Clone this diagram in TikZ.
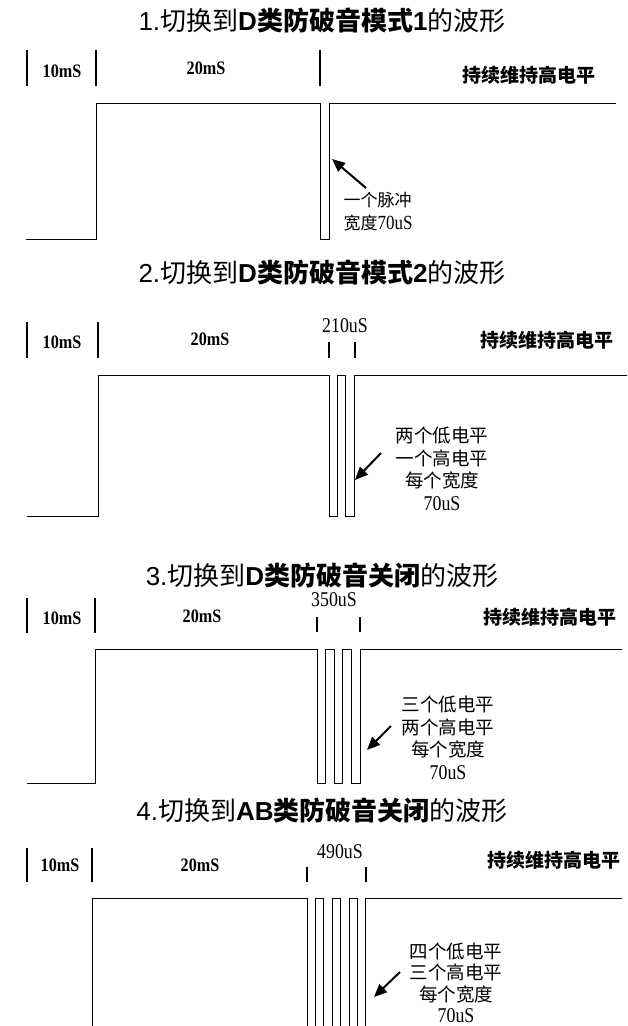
\documentclass[tikz,border=0pt]{standalone}
\usepackage{fontspec}
\setmainfont{Liberation Serif}
\newfontfamily\cjk{Noto Sans CJK SC}
\newfontfamily\arial{Liberation Sans}
\newfontfamily\narrow[FakeStretch=0.85]{Liberation Serif}
\usetikzlibrary{arrows.meta}

\tikzset{
  wave/.style={line width=0.9pt, line join=miter},
  bigtick/.style={line width=1.6pt},
  smalltick/.style={line width=1.3pt},
  pointer/.style={line width=2pt, -{Triangle[length=13pt,width=11pt]}},
  heading/.style={font=\cjk\fontsize{26}{30}\selectfont},
  span/.style={font=\narrow\bfseries\fontsize{19}{22}\selectfont},
  keep/.style={font=\cjk\bfseries\fontsize{19}{22}\selectfont},
  usdim/.style={font=\narrow\fontsize{21}{24}\selectfont},
  note/.style={font=\cjk\fontsize{18.5}{22.5}\selectfont, align=center},
}

\begin{document}
\begin{tikzpicture}[x=1pt, y=-1pt]
    \useasboundingbox (0,0) rectangle (627,1026);

    % 1: one pulse
    \node[heading] (t1) at (322,20) {{\arial 1.}切换到{\arial\bfseries D}{\bfseries 类防破音模式}{\arial\bfseries 1}的波形};
    \foreach \x in {27,96,320} \draw[bigtick] (\x,50) -- (\x,86);
    \node[span] (a1) at (62,71) {10mS};
    \node[span] (b1) at (206,68) {20mS};
    \node[keep] (k1) at (529,75) {持续维持高电平};
    \draw[wave] (26,239) -- (96,239) -- (96,103) -- (320,103) -- (320,239) -- (329,239) -- (329,103) -- (616,103);
    \coordinate (s1) at (366,188);
    \coordinate (e1) at (332,159);
    \draw[pointer] (s1) -- (e1);
    \node[note, font=\cjk\fontsize{17}{23}\selectfont, align=left, anchor=west] (n1) at (340,212) {一个脉冲\\宽度{\narrow\fontsize{20}{23}\selectfont 70uS}};

    % 2: two pulses
    \node[heading] (t2) at (322,272) {{\arial 2.}切换到{\arial\bfseries D}{\bfseries 类防破音模式}{\arial\bfseries 2}的波形};
    \foreach \x in {27,98} \draw[bigtick] (\x,322) -- (\x,358);
    \foreach \x in {329,355} \draw[smalltick] (\x,342) -- (\x,358);
    \node[span] (a2) at (62,342) {10mS};
    \node[span] (b2) at (210,339) {20mS};
    \node[usdim] (d2) at (345,326) {210uS};
    \node[keep] (k2) at (547,340) {持续维持高电平};
    \draw[wave] (27,516) -- (98,516) -- (98,375) -- (329,375);
    \foreach \i in {0,1} \draw[wave] ({329+2*\i*8.4},375) -- ++(0,141) -- ++(8.4,0) -- ++(0,-141) -- ++(8.4,0);
    \draw[wave] (354,375) -- (627,375);
    \coordinate (s2) at (381,453);
    \coordinate (e2) at (355,480);
    \draw[pointer] (s2) -- (e2);
    \node[note] (n2) at (442,469) {两个低电平\\一个高电平\\每个宽度\\{\narrow\fontsize{21}{23}\selectfont 70uS}};

    % 3: three pulses
    \node[heading] (t3) at (322,575) {{\arial 3.}切换到{\arial\bfseries D}{\bfseries 类防破音关闭}的波形};
    \foreach \x in {27,95} \draw[bigtick] (\x,598) -- (\x,633);
    \foreach \x in {317,360} \draw[smalltick] (\x,617) -- (\x,632);
    \node[span] (a3) at (62,618) {10mS};
    \node[span] (b3) at (202,616) {20mS};
    \node[usdim] (d3) at (334,600) {350uS};
    \node[keep] (k3) at (550,617) {持续维持高电平};
    \draw[wave] (27,783) -- (95,783) -- (95,649) -- (317,649);
    \foreach \i in {0,1,2} \draw[wave] ({317+2*\i*8.6},649) -- ++(0,134) -- ++(8.6,0) -- ++(0,-134) -- ++(8.6,0);
    \draw[wave] (360,649) -- (622,649);
    \coordinate (s3) at (391,726);
    \coordinate (e3) at (367,750);
    \draw[pointer] (s3) -- (e3);
    \node[note] (n3) at (448,738) {三个低电平\\两个高电平\\每个宽度\\{\narrow\fontsize{21}{23}\selectfont 70uS}};

    % 4: four pulses
    \node[heading] (t4) at (322,810) {{\arial 4.}切换到{\arial\bfseries AB}{\bfseries 类防破音关闭}的波形};
    \foreach \x in {27,92} \draw[bigtick] (\x,848) -- (\x,882);
    \foreach \x in {307,366} \draw[smalltick] (\x,867) -- (\x,882);
    \node[span] (a4) at (60,865) {10mS};
    \node[span] (b4) at (200,865) {20mS};
    \node[usdim] (d4) at (340,852) {490uS};
    \node[keep] (k4) at (554,860) {持续维持高电平};
    \draw[wave] (27,1032) -- (92,1032) -- (92,898) -- (307,898);
    \foreach \i in {0,1,2,3} \draw[wave] ({307+2*\i*8.4},898) -- ++(0,134) -- ++(8.4,0) -- ++(0,-134) -- ++(8.4,0);
    \draw[wave] (366,898) -- (622,898);
    \coordinate (s4) at (400,972);
    \coordinate (e4) at (374,997);
    \draw[pointer] (s4) -- (e4);
    \node[note, font=\cjk\fontsize{18.5}{21.5}\selectfont] (n4) at (456,983) {四个低电平\\三个高电平\\每个宽度\\{\narrow\fontsize{21}{22}\selectfont 70uS}};
\end{tikzpicture}
\end{document}
